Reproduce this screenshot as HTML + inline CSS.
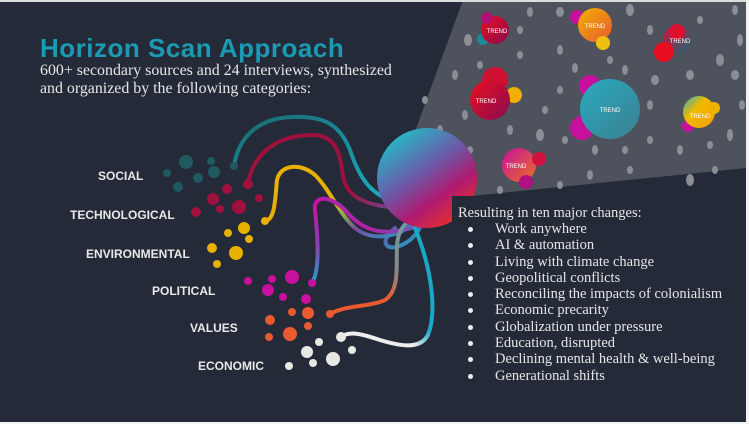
<!DOCTYPE html>
<html><head><meta charset="utf-8"><style>
html,body{margin:0;padding:0;background:#252a38;}
#c{position:relative;width:749px;height:424px;overflow:hidden;background:#252a38;}
svg{position:absolute;left:0;top:0;}
.t{position:absolute;font-family:"Liberation Serif",serif;color:#e6e6e6;}
.li{position:relative;padding-left:29px;}
.li:before{content:"";position:absolute;left:2px;top:6px;width:5px;height:5px;border-radius:50%;background:#eee;}
</style></head><body><div id="c">
<svg width="749" height="424" viewBox="0 0 749 424">
<defs>
<linearGradient id="bg1" x1="0.2" y1="0.1" x2="0.8" y2="0.95"><stop offset="0" stop-color="#2bb2c4"/><stop offset="0.4" stop-color="#6a5aa8"/><stop offset="0.7" stop-color="#b01a70"/><stop offset="1" stop-color="#e8302a"/></linearGradient>
<linearGradient id="gy" x1="0" y1="0" x2="1" y2="1"><stop offset="0" stop-color="#e8b000"/><stop offset="0.45" stop-color="#e8b000"/><stop offset="0.6" stop-color="#8ab040"/><stop offset="0.75" stop-color="#7a4aa0"/><stop offset="1" stop-color="#1aa8c8"/></linearGradient>
<linearGradient id="gm" x1="0" y1="1" x2="1" y2="0"><stop offset="0" stop-color="#1aa8c8"/><stop offset="0.25" stop-color="#8a40b0"/><stop offset="0.5" stop-color="#c8109f"/><stop offset="0.7" stop-color="#8a40b0"/><stop offset="1" stop-color="#1aa8c8"/></linearGradient>
<linearGradient id="gc" x1="0" y1="0" x2="1" y2="1"><stop offset="0" stop-color="#a0103f"/><stop offset="0.55" stop-color="#a0103f"/><stop offset="0.8" stop-color="#6a50a0"/><stop offset="1" stop-color="#1aa8c8"/></linearGradient>
<linearGradient id="go" x1="0" y1="1" x2="1" y2="0"><stop offset="0" stop-color="#e85a30"/><stop offset="0.45" stop-color="#e85a30"/><stop offset="0.65" stop-color="#888"/><stop offset="1" stop-color="#6aa0a8"/></linearGradient>
<linearGradient id="gw" x1="0" y1="1" x2="1" y2="0"><stop offset="0" stop-color="#eee"/><stop offset="0.4" stop-color="#eee"/><stop offset="0.55" stop-color="#1aa8c8"/><stop offset="1" stop-color="#1aa8c8"/></linearGradient>
<linearGradient id="gt" x1="0" y1="0" x2="1" y2="1"><stop offset="0" stop-color="#1a6a72"/><stop offset="1" stop-color="#1ab0c8"/></linearGradient>
<linearGradient id="b1" x1="0" y1="0" x2="1" y2="1"><stop offset="0" stop-color="#e81020"/><stop offset="1" stop-color="#8a0a50"/></linearGradient>
<linearGradient id="b2" x1="0" y1="0" x2="1" y2="1"><stop offset="0" stop-color="#f2b000"/><stop offset="1" stop-color="#e85a30"/></linearGradient>
<linearGradient id="b3" x1="0" y1="0" x2="1" y2="1"><stop offset="0" stop-color="#d01040"/><stop offset="1" stop-color="#1a6a72"/></linearGradient>
<linearGradient id="b4" x1="0" y1="0" x2="1" y2="1"><stop offset="0" stop-color="#c8109f"/><stop offset="1" stop-color="#e87020"/></linearGradient>
<linearGradient id="b5" x1="0" y1="0" x2="1" y2="1"><stop offset="0" stop-color="#2aaabf"/><stop offset="1" stop-color="#3a8090"/></linearGradient>
<linearGradient id="b6" x1="0" y1="0" x2="1" y2="1"><stop offset="0" stop-color="#2ab0c0"/><stop offset="0.4" stop-color="#f2b800"/><stop offset="1" stop-color="#f2a000"/></linearGradient>
</defs>
<polygon points="398,178 463,0 746,0 746,168 452,198" fill="#4e525c"/>
<g fill="#8b8e94">
<ellipse cx="468" cy="40" rx="4" ry="6"/><ellipse cx="530" cy="12" rx="3" ry="5"/><ellipse cx="560" cy="50" rx="3" ry="5"/><ellipse cx="520" cy="55" rx="3" ry="4"/>
<ellipse cx="560" cy="12" rx="4" ry="5"/><ellipse cx="630" cy="10" rx="4" ry="6"/><ellipse cx="650" cy="30" rx="3" ry="5"/><ellipse cx="700" cy="20" rx="3" ry="4"/>
<ellipse cx="735" cy="10" rx="3" ry="5"/><ellipse cx="740" cy="40" rx="3" ry="6"/><ellipse cx="720" cy="60" rx="4" ry="6"/><ellipse cx="690" cy="75" rx="4" ry="5"/>
<ellipse cx="735" cy="75" rx="4" ry="5"/><ellipse cx="742" cy="105" rx="3" ry="5"/><ellipse cx="730" cy="135" rx="3" ry="6"/><ellipse cx="710" cy="145" rx="3" ry="4"/>
<ellipse cx="680" cy="150" rx="3" ry="5"/><ellipse cx="650" cy="140" rx="3" ry="4"/><ellipse cx="650" cy="105" rx="3" ry="5"/><ellipse cx="655" cy="80" rx="4" ry="5"/>
<ellipse cx="625" cy="70" rx="3" ry="5"/><ellipse cx="610" cy="60" rx="3" ry="4"/><ellipse cx="575" cy="68" rx="3" ry="5"/><ellipse cx="560" cy="90" rx="3" ry="4"/>
<ellipse cx="545" cy="110" rx="3" ry="4"/><ellipse cx="540" cy="135" rx="4" ry="6"/><ellipse cx="565" cy="140" rx="3" ry="4"/><ellipse cx="595" cy="150" rx="3" ry="5"/>
<ellipse cx="625" cy="150" rx="3" ry="4"/><ellipse cx="630" cy="170" rx="3" ry="4"/><ellipse cx="590" cy="175" rx="3" ry="5"/><ellipse cx="560" cy="185" rx="3" ry="4"/>
<ellipse cx="500" cy="190" rx="3" ry="4"/><ellipse cx="470" cy="150" rx="3" ry="4"/><ellipse cx="465" cy="115" rx="3" ry="5"/><ellipse cx="455" cy="75" rx="3" ry="5"/>
<ellipse cx="480" cy="65" rx="3" ry="4"/><ellipse cx="510" cy="130" rx="3" ry="5"/><ellipse cx="690" cy="180" rx="4" ry="6"/><ellipse cx="715" cy="170" rx="3" ry="4"/>
<ellipse cx="520" cy="30" rx="3" ry="4"/><ellipse cx="440" cy="130" rx="3" ry="5"/><ellipse cx="425" cy="100" rx="3" ry="4"/>
</g>
<g font-family="Liberation Sans,sans-serif" font-size="6" fill="#fff" text-anchor="middle">
<circle cx="483" cy="39" r="6" fill="#1a8a98"/><circle cx="495" cy="30" r="14" fill="url(#b1)"/><circle cx="487" cy="18" r="6" fill="#b01070"/><text x="497" y="33">TREND</text>
<circle cx="577" cy="17" r="7" fill="#c8109f"/><circle cx="595" cy="25" r="17" fill="url(#b2)"/><circle cx="603" cy="43" r="7" fill="#f0c010"/><text x="595" y="28">TREND</text>
<circle cx="677" cy="40" r="14" fill="url(#b3)"/><circle cx="677" cy="32" r="8" fill="#e01030"/><circle cx="664" cy="52" r="10" fill="#e81020"/><text x="680" y="43">TREND</text>
<circle cx="495" cy="80" r="13" fill="#d01030"/><circle cx="514" cy="95" r="8" fill="#f0b000"/><circle cx="490" cy="100" r="20" fill="url(#b1)"/><text x="486" y="103">TREND</text>
<circle cx="590" cy="86" r="11" fill="#c8109f"/><circle cx="582" cy="128" r="12" fill="#c8109f"/><circle cx="610" cy="109" r="30" fill="url(#b5)"/><text x="610" y="112">TREND</text>
<circle cx="688" cy="126" r="6" fill="#c8109f"/><circle cx="699" cy="112" r="16" fill="url(#b6)"/><circle cx="714" cy="108" r="6" fill="#f0b000"/><text x="700" y="118">TREND</text>
<circle cx="519" cy="165" r="17" fill="url(#b4)"/><circle cx="539" cy="159" r="7" fill="#d01040"/><circle cx="526" cy="182" r="7" fill="#b01080"/><text x="516" y="168">TREND</text>
</g>
<g fill="none" stroke-width="4" stroke-linecap="round">
<path d="M234,166 C238,140 255,118 293,117 C325,116 340,125 350,150 C360,180 372,195 395,202" stroke="url(#gt)"/>
<path d="M248,184 C252,160 270,135 313,135 C335,136 340,150 343,177 C348,200 370,205 395,208 C420,212 430,222 410,240 C390,255 375,245 395,228" stroke="url(#gc)"/>
<path d="M265,221 C275,220 275,200 277,180 C280,165 300,162 315,175 C330,190 340,215 355,228 C370,240 395,240 415,222" stroke="url(#gy)"/>
<path d="M312,283 C320,270 318,240 315,210 C313,195 330,195 345,210 C360,228 380,240 420,225" stroke="url(#gm)"/>
<path d="M330,314 C345,305 370,307 385,300 C400,290 396,265 397,245 C398,232 403,225 410,220" stroke="url(#go)"/>
<path d="M341,337 C350,330 365,335 380,340 C400,346 420,350 428,335 C436,315 434,275 415,228" stroke="url(#gw)"/>
</g>
<circle cx="427" cy="178" r="50" fill="url(#bg1)"/>
<rect x="452" y="196" width="294" height="226" fill="#252a38"/>
<g fill="#1f5a60"><circle cx="186" cy="162" r="7"/><circle cx="211" cy="161" r="4"/><circle cx="214" cy="172" r="6"/><circle cx="167" cy="173" r="4"/><circle cx="198" cy="178" r="5"/><circle cx="178" cy="187" r="5"/><circle cx="234" cy="166" r="4"/></g>
<g fill="#a0103f"><circle cx="248" cy="184" r="5"/><circle cx="227" cy="189" r="5"/><circle cx="213" cy="199" r="6"/><circle cx="239" cy="207" r="7"/><circle cx="259" cy="198" r="4"/><circle cx="220" cy="209" r="4"/><circle cx="196" cy="212" r="5"/></g>
<g fill="#e8b000"><circle cx="265" cy="221" r="4"/><circle cx="244" cy="228" r="6"/><circle cx="228" cy="233" r="4"/><circle cx="249" cy="239" r="4"/><circle cx="212" cy="248" r="5"/><circle cx="236" cy="253" r="7"/><circle cx="217" cy="264" r="4"/></g>
<g fill="#c8109f"><circle cx="248" cy="281" r="4"/><circle cx="272" cy="279" r="4"/><circle cx="292" cy="277" r="7"/><circle cx="312" cy="283" r="4"/><circle cx="268" cy="290" r="6"/><circle cx="283" cy="297" r="4"/><circle cx="306" cy="299" r="5"/></g>
<g fill="#e85a30"><circle cx="292" cy="312" r="4"/><circle cx="308" cy="313" r="6"/><circle cx="330" cy="314" r="4"/><circle cx="270" cy="320" r="5"/><circle cx="308" cy="326" r="4"/><circle cx="290" cy="334" r="7"/><circle cx="269" cy="337" r="4"/></g>
<g fill="#e8e8e4"><circle cx="341" cy="337" r="5"/><circle cx="319" cy="342" r="4"/><circle cx="307" cy="352" r="6"/><circle cx="352" cy="350" r="4"/><circle cx="333" cy="359" r="7"/><circle cx="313" cy="363" r="4"/><circle cx="289" cy="366" r="4"/></g>
<g font-family="Liberation Sans,sans-serif" font-size="12" font-weight="bold" fill="#e8e8e8">
<text x="98" y="180">SOCIAL</text><text x="70" y="219">TECHNOLOGICAL</text><text x="86" y="258">ENVIRONMENTAL</text>
<text x="152" y="295">POLITICAL</text><text x="190" y="332">VALUES</text><text x="198" y="370">ECONOMIC</text>
</g>
<rect x="0" y="0" width="749" height="2" fill="#ddd"/>
<rect x="746" y="0" width="3" height="424" fill="#f2f2f2"/>
<rect x="0" y="422" width="749" height="2" fill="#f2f2f2"/>
</svg>
<div class="t" style="left:40px;top:33px;font-family:'Liberation Sans',sans-serif;font-size:26px;color:#1a9bb3;font-weight:bold;letter-spacing:0.5px">Horizon Scan Approach</div>
<div class="t" style="left:40px;top:62px;font-size:15.9px;line-height:18px;">600+ secondary sources and 24 interviews, synthesized<br>and organized by the following categories:</div>
<div class="t" style="left:458px;top:205px;font-size:14.5px;line-height:16.3px;">Resulting in ten major changes:</div>
<div class="t" style="left:466px;top:221px;font-size:14.5px;line-height:16.3px;">
<div class="li">Work anywhere</div><div class="li">AI &amp; automation</div><div class="li">Living with climate change</div><div class="li">Geopolitical conflicts</div><div class="li">Reconciling the impacts of colonialism</div><div class="li">Economic precarity</div><div class="li">Globalization under pressure</div><div class="li">Education, disrupted</div><div class="li">Declining mental health &amp; well-being</div><div class="li">Generational shifts</div>
</div>
</div></body></html>
